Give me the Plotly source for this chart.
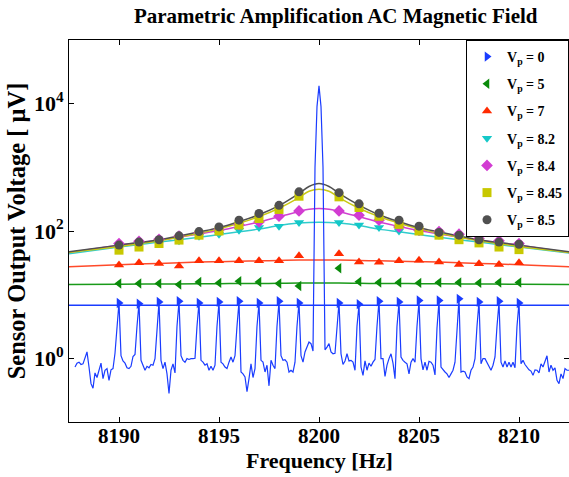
import numpy as np
import plotly.graph_objects as go

# Frequencies (Hz) at which the pump-on measurements were taken
freq_pts = [8190, 8191, 8192, 8193, 8194, 8195, 8196, 8197, 8198, 8199,
            8201, 8202, 8203, 8204, 8205, 8206, 8207, 8208, 8209, 8210]

vp_labels = ["0", "5", "7", "8.2", "8.4", "8.45", "8.5"]

# Measured sensor output (uV) for each pump voltage
amp_vp0 = [7.4, 7.2, 7.7, 7.9, 7.4, 7.7, 7.9, 7.4, 7.9, 7.4,
           7.4, 7.1, 7.9, 7.7, 8.1, 8.1, 8.6, 7.7, 7.9, 7.4]
amp_vp5 = [15.0, 15.0, 15.0, 14.4, 15.8, 15.3, 16.3, 15.8, 15.0, 13.7,
           26.0, 16.0, 15.5, 15.5, 15.3, 15.5, 15.5, 15.3, 15.5, 15.5]
amp_vp7 = [29.2, 31.6, 31.0, 28.3, 34.0, 34.0, 34.0, 34.0, 34.0, 40.7,
           44.0, 32.7, 32.2, 34.0, 34.7, 32.7, 29.7, 30.5, 29.7, 31.6]
amp_vp82 = [57.8, 60, 63.6, 70, 83, 89, 103, 113, 119, 136,
            136, 124, 113, 100, 98, 86, 76, 70, 63.6, 56]
amp_vp84 = [63.6, 69, 74, 83, 93, 105, 126, 139, 171, 207,
            207, 177, 148, 116, 103, 98, 89, 76, 70, 63.6]
amp_vp845 = [50, 56, 63.6, 72, 86, 100, 124, 157, 218, 352,
             344, 234, 170, 127, 100, 86, 73, 65, 56, 51]
amp_vp85 = [60, 67, 73, 84, 98, 116, 148, 188, 253, 412,
            400, 267, 190, 148, 119, 95, 86, 73, 67, 62]

# Fitted response curves
fit_freq = [8187.5, 8190, 8192, 8194, 8195, 8196, 8197, 8198, 8199, 8199.5, 8200,
            8200.5, 8201, 8202, 8203, 8204, 8205, 8206, 8208, 8210, 8212.5]
fit_vp0_freq = [8187.5, 8212.5]
fit_vp0 = [6.8, 6.8]
fit_vp5 = [14.4, 14.6, 14.7, 14.8, 14.9, 15.0, 15.0, 15.1, 15.2, 15.2, 15.2,
           15.2, 15.2, 15.1, 15.0, 15.0, 14.9, 14.8, 14.7, 14.6, 14.4]
fit_vp7 = [27.5, 29.5, 31.0, 32.5, 33.0, 33.5, 34.0, 34.5, 35.0, 35.0, 35.0,
           35.0, 35.0, 34.5, 34.0, 33.5, 33.0, 32.5, 31.0, 29.5, 27.5]
fit_vp82 = [44, 56, 67, 80, 88, 97, 107, 122, 133, 136, 137,
            136, 133, 122, 107, 97, 88, 80, 67, 56, 45]
fit_vp84 = [46, 60, 72, 90, 102, 118, 138, 168, 203, 220, 226,
            220, 203, 168, 138, 118, 102, 90, 72, 60, 46]
fit_vp845 = [46, 57, 70, 92, 108, 132, 168, 228, 335, 420, 452,
             420, 335, 228, 168, 132, 108, 92, 70, 57, 46]
fit_vp85 = [47, 60, 73, 97, 113, 140, 180, 250, 390, 500, 556,
            500, 390, 255, 180, 140, 113, 97, 73, 60, 47]

# Unpumped spectrum (Vp = 0), 0.1 Hz resolution starting at 8187.8 Hz
spec_start = 8187.8
spec_step = 0.1
spectrum = [
    0.73, 0.84,
    0.87, 0.80, 0.82, 0.99, 1.26, 0.73, 0.40, 0.34, 0.59, 0.50,
    0.65, 0.84, 0.48, 0.65, 0.69, 0.45, 0.66, 0.69, 1.2, 3.2,
    7.6, 1.1, 0.91, 0.84, 0.71, 0.69, 0.75, 1.07, 1.15, 3.2,
    7.4, 0.93, 0.80, 0.65, 0.75, 0.71, 0.80, 0.78, 0.99, 3.2,
    7.7, 0.93, 0.69, 0.87, 0.57, 0.28, 0.65, 0.82, 0.59, 3.2,
    7.9, 1.1, 0.93, 0.87, 0.99, 0.96, 0.99, 0.99, 1.0, 3.2,
    7.6, 0.93, 0.87, 0.78, 0.82, 0.65, 0.75, 0.65, 0.78, 3.2,
    7.6, 0.87, 0.82, 0.73, 0.69, 0.87, 1.05, 0.87, 1.1, 3.2,
    7.8, 0.61, 0.57, 0.51, 0.30, 0.48, 0.82, 0.50, 0.69, 3.2,
    7.4, 0.93, 0.87, 0.61, 0.78, 0.37, 0.93, 0.78, 0.69, 3.2,
    7.8, 1.1, 0.93, 0.95, 0.87, 0.61, 0.65, 0.61, 0.87, 3.2,
    7.6, 1.1, 0.87, 1.26, 1.5, 1.8, 1.7, 1.3, 1000, 9000,
    19000, 9000, 1000, 1.36, 1.5, 1.7, 1.26, 1.18, 1.2, 3.2,
    7.6, 1.18, 0.80, 0.91, 1.18, 0.91, 0.93, 0.87, 0.65, 3.2,
    7.0, 0.73, 0.54, 0.91, 0.65, 0.84, 0.75, 0.87, 0.96, 3.2,
    8.1, 0.99, 0.99, 0.52, 0.78, 0.99, 1.18, 0.84, 0.48, 3.2,
    7.6, 1.05, 0.93, 0.87, 0.82, 0.57, 0.87, 0.99, 0.87, 3.2,
    7.8, 0.99, 0.66, 0.87, 0.65, 0.90, 0.87, 0.78, 0.55, 3.0,
    8.0, 0.73, 0.66, 0.61, 0.57, 0.50, 0.57, 0.65, 0.87, 3.2,
    8.6, 0.61, 0.63, 0.61, 0.51, 0.48, 0.65, 0.73, 0.99, 3.2,
    7.8, 0.82, 0.99, 0.99, 0.87, 0.73, 0.65, 0.78, 1.05, 3.2,
    7.6, 0.87, 0.73, 0.91, 0.73, 0.87, 0.73, 0.87, 0.71, 3.2,
    7.6, 0.82, 0.93, 0.80, 0.73, 0.66, 0.63, 0.54, 0.66, 0.65,
    0.59, 0.82, 0.73, 0.91, 1.1, 0.61, 0.78, 0.65, 0.71, 0.45,
    0.40, 0.57, 0.48, 0.69, 0.65, 0.65,
]
spec_freq = np.round(spec_start + spec_step * np.arange(len(spectrum)), 2)

x_ticks = [8190, 8195, 8200, 8205, 8210]
y_ticks = [1, 100, 10000]
y_ticktext = ["10<sup>0</sup>", "10<sup>2</sup>", "10<sup>4</sup>"]

series = [
    (amp_vp0, fit_vp0_freq, fit_vp0, "#1a3cff", "#1a3cff", "triangle-right"),
    (amp_vp5, fit_freq, fit_vp5, "#0a8a0a", "#1a9a1a", "triangle-left"),
    (amp_vp7, fit_freq, fit_vp7, "#ff2a00", "#ff4a2a", "triangle-up"),
    (amp_vp82, fit_freq, fit_vp82, "#14c8c8", "#30cccc", "triangle-down"),
    (amp_vp84, fit_freq, fit_vp84, "#d23cd2", "#d040d0", "diamond"),
    (amp_vp845, fit_freq, fit_vp845, "#c8c800", "#c8c814", "square"),
    (amp_vp85, fit_freq, fit_vp85, "#505050", "#505050", "circle"),
]

serif = "Liberation Serif, Times New Roman, serif"
fig = go.Figure()

# fitted curves underneath
for amp, ffreq, fvals, mcol, lcol, sym in series:
    fig.add_trace(go.Scatter(
        x=ffreq, y=fvals, mode="lines",
        line=dict(color=lcol, width=1.5, shape="spline", smoothing=1.0),
        showlegend=False, hoverinfo="skip"))

# unpumped spectrum
fig.add_trace(go.Scatter(
    x=spec_freq, y=spectrum, mode="lines",
    line=dict(color="#1a3cff", width=1.2),
    showlegend=False, hoverinfo="skip"))

# measured points
for i, (amp, ffreq, fvals, mcol, lcol, sym) in enumerate(series):
    fig.add_trace(go.Scatter(
        x=freq_pts, y=amp, mode="markers",
        marker=dict(symbol=sym, color=mcol, size=9, line=dict(width=0)),
        name="V<sub>p</sub> = " + vp_labels[i],
        legendgroup="g%d" % i))

axis_common = dict(
    showline=True, linecolor="black", linewidth=1, mirror="ticks",
    ticks="inside", ticklen=5, tickcolor="black", showgrid=False, zeroline=False,
)

fig.update_layout(
    width=569, height=477,
    margin=dict(l=69, r=0, t=40, b=55),
    paper_bgcolor="white", plot_bgcolor="white",
    title=dict(text="Parametric Amplification AC Magnetic Field",
               x=0.59, xanchor="center", y=0.968, yanchor="middle",
               font=dict(family=serif, size=21, color="black", weight="bold")),
    xaxis=dict(range=[8187.5, 8212.5], tickvals=x_ticks, ticklabelstandoff=-5,
               tickfont=dict(family=serif, size=21, color="black", weight="bold"),
               **axis_common),
    yaxis=dict(type="log", range=[-1, 5], tickvals=y_ticks, ticktext=y_ticktext,
               tickfont=dict(family=serif, size=22, color="black", weight="bold"),
               title=dict(text="Sensor Output Voltage [ \u03bcV]", standoff=1,
                          font=dict(family=serif, size=24.5, color="black", weight="bold")),
               **axis_common),
    legend=dict(x=1, xanchor="right", y=1, yanchor="top",
                bgcolor="white", bordercolor="black", borderwidth=1,
                tracegroupgap=6,
                font=dict(family=serif, size=14, color="black", weight="bold")),
    annotations=[dict(text="Frequency [Hz]", xref="paper", yref="paper",
                      x=0.5, y=-0.1, xanchor="center", yanchor="middle",
                      showarrow=False,
                      font=dict(family=serif, size=22, color="black", weight="bold"))],
)

fig.write_html("out.html")
